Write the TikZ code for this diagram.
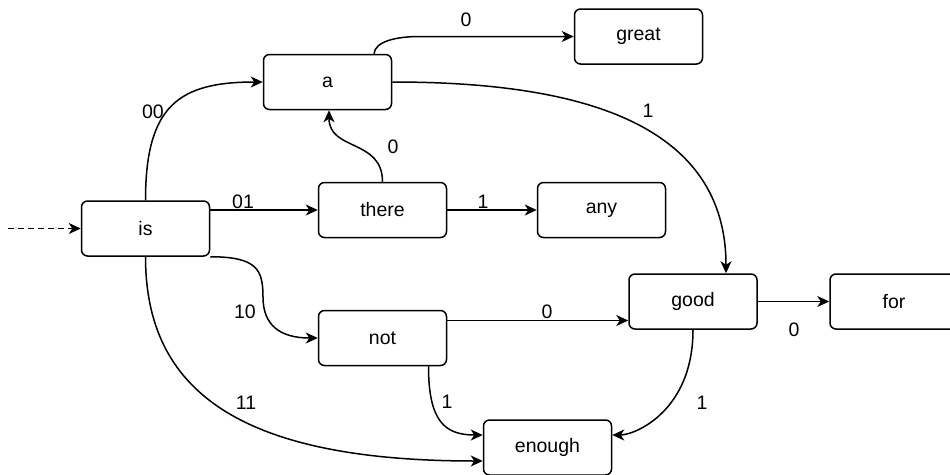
\documentclass[tikz,border=0pt]{standalone}
\usepackage{fontspec}
\setmainfont{Liberation Sans}
\usetikzlibrary{arrows.meta}
\tikzset{
  box/.style={draw, line width=1.5pt, rounded corners=6pt, minimum width=128pt, minimum height=55pt, inner sep=0pt, font=\fontsize{19.5}{23}\selectfont},
  arr/.style={line width=1.5pt, -{Stealth[length=12pt,width=11pt,inset=3.5pt]}},
  lbl/.style={inner sep=0pt, font=\fontsize{19.5}{23}\selectfont}
}
\begin{document}
\begin{tikzpicture}[x=1pt,y=-1pt]
\clip (0,0) rectangle (950,474);
% nodes
\node[box] (is) at (145.5,228.5) {is};
\node[box] (a) at (327.5,82) {a};
\node[box] (great) at (638.5,36.5) {great};
\node[box] (there) at (382.5,210) {there};
\node[box] (any) at (601.5,210) {any};
\node[box] (good) at (693,301.5) {good};
\node[box] (for) at (894,301.5) {for};
\node[box] (not) at (382.5,338) {not};
\node[box] (enough) at (547.5,447.5) {enough};
% connectors
\coordinate (start) at (8,228.5);
\draw[arr, dash pattern=on 6pt off 4pt] (start) -- (is.west);
\draw[arr] (is.north) .. controls +(0,-95) and +(-83.5,0) .. (a.west);
\draw[arr] (is.east |- there.west) -- (there.west);
\coordinate (s10) at (263,297);
\draw[arr] (is.south east) .. controls +(47,0) and +(0,-27) .. (s10) .. controls +(0,28) and +(-38,0) .. (not.west);
\draw[arr] (is.south) .. controls +(0,134) and +(-243.5,0) .. ([yshift=-13.5pt]enough.west);
\draw[arr] (there.north) .. controls +(0,-43) and +(0,41) .. ([xshift=1.5pt]a.south);
\draw[arr] (there.east) -- (any.west);
\coordinate (g0) at (420,36.5);
\draw[arr] ([xshift=46.5pt]a.north) .. controls +(1,-12) and +(-25,0) .. (g0) -- (great.west);
\draw[arr] (a.east) .. controls +(168,0) and +(0,-159) .. ([xshift=33pt]good.north);
\coordinate (n0) at ([yshift=17.5pt]not.east);
\draw[arr] (n0) -- (n0 -| good.west);
\draw[arr] (good.east) -- (for.west);
\draw[arr] ([xshift=46pt]not.south) .. controls +(0,55) and +(-38,0) .. ([yshift=12.5pt]enough.west);
\draw[arr] (good.south) .. controls +(0,81) and +(23,0) .. ([yshift=12.5pt]enough.east);
% labels
\node[lbl] (l1) at (466,20) {0};
\node[lbl] (l2) at (648,111) {1};
\node[lbl] (l3) at (153,112) {00};
\node[lbl] (l4) at (243,202) {01};
\node[lbl] (l5) at (393,147) {0};
\node[lbl] (l6) at (483,202) {1};
\node[lbl] (l7) at (245,312) {10};
\node[lbl] (l8) at (246,403) {11};
\node[lbl] (l9) at (447,402) {1};
\node[lbl] (l10) at (547,312) {0};
\node[lbl] (l11) at (702,403) {1};
\node[lbl] (l12) at (794,330) {0};
\end{tikzpicture}
\end{document}
